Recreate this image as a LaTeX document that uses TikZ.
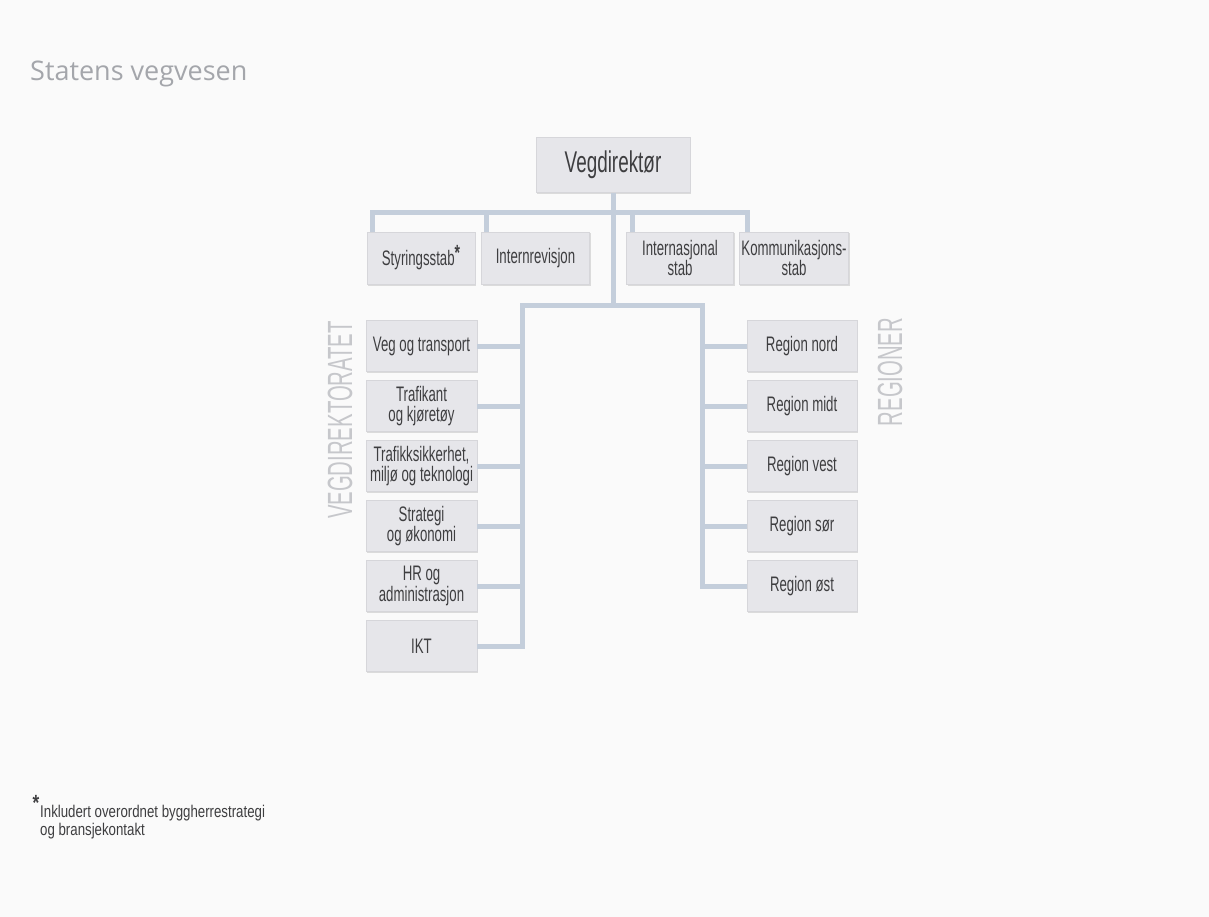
\documentclass[tikz,border=0pt]{standalone}
\usepackage{fontspec}
\setmainfont{Liberation Sans}
\newfontfamily\condfont{Liberation Sans}[FakeStretch=0.63]
\newfontfamily\footfont{Liberation Sans}[FakeStretch=0.78]
\newfontfamily\thinfont{Liberation Sans}[FakeStretch=0.58]
\newfontfamily\titlefont{Open Sans}
\usetikzlibrary{shadows}
\definecolor{bgcol}{HTML}{FAFAFA}
\definecolor{boxfill}{HTML}{E6E6EA}
\definecolor{boxline}{HTML}{D6D6DA}
\definecolor{boxtext}{HTML}{3E3E40}
\definecolor{lineblue}{HTML}{C4CEDB}
\definecolor{labelgray}{HTML}{C6C7CB}
\definecolor{titlegray}{HTML}{A4A6AB}
\begin{document}
\begin{tikzpicture}[x=1pt,y=-1pt,
  box/.style={fill=boxfill,draw=boxline,line width=.5pt,text=boxtext,align=center,inner sep=2pt,
    minimum width=111pt,minimum height=51pt,font=\condfont\fontsize{21}{20.5}\selectfont,
    drop shadow={shadow xshift=1pt,shadow yshift=-1.5pt,fill=black,opacity=.12}},
  conn/.style={draw=lineblue,line width=5pt},
  side/.style={rotate=90,text=labelgray,inner sep=0pt,font=\thinfont\fontsize{35}{35}\selectfont}]
\fill[bgcol](0,0) rectangle (1209,917);
\useasboundingbox (0,0) rectangle (1209,917);

\node[anchor=base west,inner sep=0pt,text=titlegray,font=\titlefont\fontsize{27}{27}\selectfont] (title) at (30,81) {Statens vegvesen};

\node[box,minimum width=154pt,minimum height=55pt,font=\condfont\fontsize{30}{30}\selectfont] (vd) at (613,165) {Vegdirektør};

\node[box,minimum width=108pt,minimum height=52pt] (styr) at (421,258) {Styringsstab\raisebox{5pt}{\fontsize{22}{22}\selectfont\bfseries *}};
\node[box,minimum width=108pt,minimum height=52pt] (intern) at (535.5,258) {Internrevisjon};
\node[box,minimum width=107pt,minimum height=52pt] (inas) at (680,258) {Internasjonal\\stab};
\node[box,minimum width=108pt,minimum height=52pt] (komm) at (794,258) {Kommunikasjons-\\stab};

\foreach \n/\t [count=\i from 0] in {veg/{Veg og transport},traf/{Trafikant\\og kjøretøy},
    sikk/{Trafikksikkerhet,\\miljø og teknologi},strat/{Strategi\\og økonomi},
    hr/{HR og\\administrasjon},ikt/{IKT}}
  \node[box] (\n) at (421.5,346+60*\i) {\t};

\foreach \n/\t [count=\i from 0] in {nord/nord,midt/midt,vest/vest,sor/sør,ost/øst}
  \node[box,minimum width=110pt] (\n) at (802,346+60*\i) {Region \t};

\node[side] (vdir) at (340,420) {VEGDIREKTORATET};
\node[side] (reg) at (890,372) {REGIONER};

\coordinate (bar) at (613,213);
\coordinate (lv) at (522,305);
\coordinate (rv) at (702,305);

\draw[conn](vd.south)--(vd.south |- lv);
\draw[conn]([xshift=6pt]styr.north west)--([xshift=6pt]styr.north west |- bar)
  --([xshift=8pt]komm.north west |- bar)--([xshift=8pt]komm.north west);
\draw[conn]([xshift=5pt]intern.north west)--([xshift=5pt]intern.north west |- bar);
\draw[conn]([xshift=6pt]inas.north west)--([xshift=6pt]inas.north west |- bar);

\draw[conn](ikt.east) -| (lv)--(rv) |- (ost.west);
\foreach \n in {veg,traf,sikk,strat,hr}
  \draw[conn](\n.east)--(\n.east -| lv);
\foreach \n in {nord,midt,vest,sor}
  \draw[conn](\n.west)--(\n.west -| rv);

\node[anchor=north west,align=left,inner sep=0pt,text=boxtext,font=\footfont\fontsize{17}{18}\selectfont] (note) at (40,795)
  {\llap{\raisebox{7pt}{\fontsize{22}{22}\selectfont\bfseries *}\kern1pt}Inkludert overordnet byggherrestrategi\\og bransjekontakt};
\end{tikzpicture}
\end{document}
